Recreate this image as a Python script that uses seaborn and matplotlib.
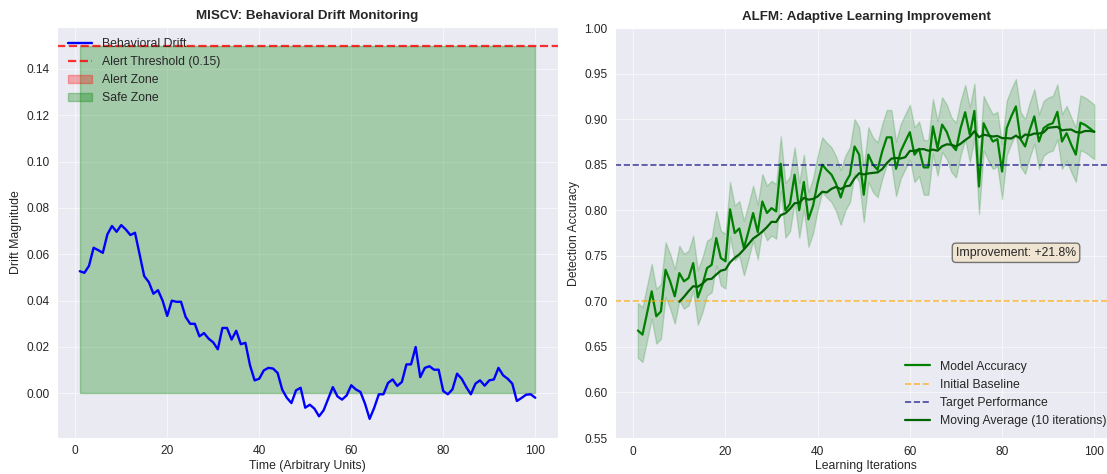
import numpy as np
import pandas as pd
import matplotlib
matplotlib.use("Agg")
import matplotlib.pyplot as plt
import seaborn as sns

# ---- MISCV drift series (time steps 1..100) ----
time_steps = list(range(1, 101))
drift_values = [
    0.0527, 0.0520, 0.0550, 0.0628, 0.0618, 0.0606, 0.0686, 0.0722, 0.0697, 0.0726,
    0.0707, 0.0683, 0.0693, 0.0600, 0.0506, 0.0480, 0.0430, 0.0445, 0.0400, 0.0334,
    0.0400, 0.0395, 0.0395, 0.0330, 0.0300, 0.0300, 0.0246, 0.0260, 0.0236, 0.0220,
    0.0190, 0.0282, 0.0282, 0.0232, 0.0270, 0.0212, 0.0218, 0.0121, 0.0056, 0.0063,
    0.0099, 0.0110, 0.0107, 0.0088, 0.0016, -0.0019, -0.0042, 0.0013, 0.0024, -0.0062,
    -0.0049, -0.0066, -0.0099, -0.0073, -0.0023, 0.0027, -0.0013, -0.0027, -0.0009, 0.0035,
    0.0017, 0.0006, -0.0045, -0.0110, -0.0062, -0.0004, -0.0004, 0.0045, 0.0060, 0.0032,
    0.0049, 0.0125, 0.0125, 0.0200, 0.0070, 0.0110, 0.0117, 0.0102, 0.0102, 0.0010,
    -0.0004, 0.0017, 0.0085, 0.0063, 0.0027, -0.0004, 0.0042, 0.0056, 0.0033, 0.0056,
    0.0060, 0.0110, 0.0078, 0.0063, 0.0042, -0.0033, -0.0020, -0.0006, -0.0004, -0.0019,
]
alert_threshold = 0.15

# ---- ALFM learning curve (iterations 1..100) ----
iterations = list(range(1, 101))
accuracy_values = [
    0.668, 0.6635, 0.6872, 0.711, 0.6836, 0.689, 0.7347, 0.722, 0.7055, 0.731,
    0.722, 0.7256, 0.742, 0.7044, 0.718, 0.7365, 0.740, 0.7694, 0.7475, 0.744,
    0.801, 0.775, 0.780, 0.7585, 0.7768, 0.7969, 0.776, 0.8096, 0.797, 0.8023,
    0.7987, 0.851, 0.800, 0.807, 0.839, 0.800, 0.831, 0.790, 0.805, 0.830,
    0.850, 0.844, 0.839, 0.829, 0.814, 0.830, 0.839, 0.870, 0.861, 0.817,
    0.861, 0.850, 0.8444, 0.8645, 0.880, 0.880, 0.8455, 0.8645, 0.8754, 0.8857,
    0.861, 0.8674, 0.847, 0.847, 0.892, 0.868, 0.894, 0.886, 0.872, 0.866,
    0.890, 0.9076, 0.883, 0.909, 0.826, 0.8955, 0.8846, 0.8754, 0.878, 0.8425,
    0.890, 0.903, 0.914, 0.878, 0.870, 0.888, 0.903, 0.8754, 0.890, 0.8937,
    0.8955, 0.908, 0.8754, 0.8846, 0.872, 0.861, 0.896, 0.8937, 0.890, 0.886,
]
accuracy_spread = 0.03
initial_baseline = 0.70
target_performance = 0.85
ma_window = 10

sns.set_style("darkgrid")
plt.rcParams["font.family"] = ["Liberation Sans", "DejaVu Sans"]
plt.rcParams["grid.linewidth"] = 0.7
plt.rcParams["grid.alpha"] = 0.6

TITLE_FS = 9.6
LABEL_FS = 8.8
TICK_FS = 8.6
LEGEND_FS = 8.8

fig = plt.figure(figsize=(11.07, 4.74), dpi=100)
ax1 = fig.add_axes([0.0515, 0.0770, 0.4526, 0.8660])
ax2 = fig.add_axes([0.5556, 0.0759, 0.4535, 0.8650])

# ---------------- Left: behavioral drift ----------------
drift_df = pd.DataFrame({"time": time_steps, "drift": drift_values})
t_arr = np.array(time_steps, dtype=float)
d_arr = np.array(drift_values)

sns.lineplot(data=drift_df, x="time", y="drift", ax=ax1, color="blue",
             linewidth=1.7, label="Behavioral Drift")
ax1.axhline(alert_threshold, color="red", linestyle="--", linewidth=1.6,
            alpha=0.8, label=f"Alert Threshold ({alert_threshold})")
ax1.fill_between(t_arr, alert_threshold, d_arr, where=d_arr > alert_threshold,
                 color="red", alpha=0.3, label="Alert Zone")
ax1.fill_between(t_arr, 0, alert_threshold, color="green", alpha=0.3,
                 label="Safe Zone")

ax1.set_title("MISCV: Behavioral Drift Monitoring", fontsize=TITLE_FS,
              fontweight="bold")
ax1.set_xlabel("Time (Arbitrary Units)", fontsize=LABEL_FS, labelpad=2)
ax1.set_ylabel("Drift Magnitude", fontsize=LABEL_FS, labelpad=3)
ax1.tick_params(labelsize=TICK_FS, pad=2)
ax1.legend(loc="upper left", fontsize=LEGEND_FS, frameon=False)

# ---------------- Right: adaptive learning ----------------
acc_df = pd.DataFrame({"iteration": iterations, "accuracy": accuracy_values})
acc_df["moving_avg"] = acc_df["accuracy"].rolling(ma_window).mean()
it_arr = np.array(iterations, dtype=float)
a_arr = np.array(accuracy_values)

sns.lineplot(data=acc_df, x="iteration", y="accuracy", ax=ax2, color="green",
             linewidth=1.6, label="Model Accuracy")
ax2.fill_between(it_arr, a_arr - accuracy_spread, a_arr + accuracy_spread,
                 color="green", alpha=0.2)
ax2.axhline(initial_baseline, color="orange", linestyle="--", linewidth=1.2,
            alpha=0.7, label="Initial Baseline")
ax2.axhline(target_performance, color="navy", linestyle="--", linewidth=1.2,
            alpha=0.7, label="Target Performance")
ma_df = acc_df.dropna(subset=["moving_avg"])
sns.lineplot(data=ma_df, x="iteration", y="moving_avg", ax=ax2,
             color="darkgreen", linewidth=1.6,
             label=f"Moving Average ({ma_window} iterations)")

improvement = (accuracy_values[-1] - accuracy_values[0]) * 100
ax2.text(70, 0.75, f"Improvement: +{improvement:.1f}%", fontsize=LABEL_FS,
         bbox=dict(boxstyle="round", facecolor="wheat", edgecolor="black",
                   linewidth=1.0, alpha=0.5))

ax2.set_ylim(0.55, 1.0)
ax2.set_title("ALFM: Adaptive Learning Improvement", fontsize=TITLE_FS,
              fontweight="bold")
ax2.set_xlabel("Learning Iterations", fontsize=LABEL_FS, labelpad=2)
ax2.set_ylabel("Detection Accuracy", fontsize=LABEL_FS, labelpad=3)
ax2.tick_params(labelsize=TICK_FS, pad=2)
ax2.legend(loc="lower right", fontsize=LEGEND_FS, frameon=False)

fig.savefig("out.png", dpi=100)
